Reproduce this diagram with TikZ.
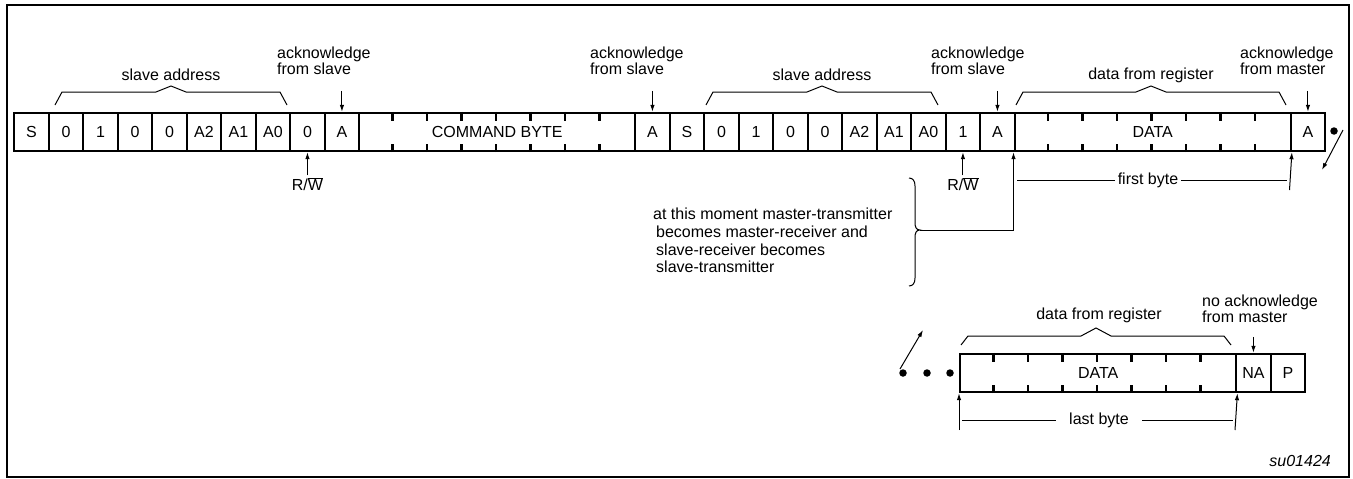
\documentclass[tikz,border=0pt]{standalone}
\usepackage{fontspec}
\setmainfont{Liberation Sans}
\usetikzlibrary{arrows.meta,calc}
\begin{document}
\begin{tikzpicture}[x=1pt,y=-1pt,
  txt/.style={font=\fontsize{16}{16.5}\selectfont, inner sep=0pt},
  every node/.style={txt},
  cell/.style={draw, line width=2.4pt, minimum width=34.5pt, minimum height=38pt, anchor=west},
  bytebox/.style={cell, minimum width=276pt},
  thinline/.style={line width=1pt},
  arr/.style={thinline, -{Latex[length=7pt,width=4.5pt]}},
  tickmark/.style={line width=2.4pt},
  bracket/.style={thinline, line join=miter},
  note/.style={align=left, anchor=north west},
  dotmark/.style={fill, circle, minimum size=7.5pt, inner sep=0pt}]
\useasboundingbox (0,0) rectangle (1353,479);
\draw[line width=2.2pt] (7,5) rectangle (1349,477);

% ---- top row ----
\foreach \t [count=\i from 0] in {S,0,1,0,0,A2,A1,A0,0,A}
  \node[cell] (a\i) at ({13+34.5*\i},132) {\t};
\node[bytebox] (cmd) at (358,132) {COMMAND BYTE};
\foreach \t [count=\i from 0] in {A,S,0,1,0,0,A2,A1,A0,1,A}
  \node[cell] (b\i) at ({634+34.5*\i},132) {\t};
\node[bytebox] (data1) at (1013.5,132) {DATA};
\node[cell] (am) at (1289.5,132) {A};

% ---- bottom row ----
\node[bytebox] (data2) at (959,373) {DATA};
\node[cell] (na) at (1235,373) {NA};
\node[cell] (p) at (1269.5,373) {P};

% ticks inside byte boxes
\foreach \bx in {cmd,data1,data2}
  \foreach \j in {1,...,7} {
    \draw[tickmark] ($(\bx.north west)+(34.5*\j,0)$) -- ++(0,9);
    \draw[tickmark] ($(\bx.south west)+(34.5*\j,0)$) -- ++(0,-8);
  }

% ---- brackets ----
\draw[bracket] (55,105) -- (62,92) -- (156,92) -- (171,86) -- (186,92) -- (280,92) -- (287,105);
\draw[bracket] (706,105) -- (713,92) -- (807,92) -- (822,86) -- (837,92) -- (931,92) -- (938,105);
\draw[bracket] (1016,105) -- (1023,92) -- (1136,92) -- (1151,86) -- (1166,92) -- (1279,92) -- (1286,105);
\draw[bracket] (961,345) -- (968,336) -- (1081,336) -- (1096,328) -- (1111,336) -- (1224,336) -- (1231,345);
\node (sa1) at (171,75) {slave address};
\node (sa2) at (822,75) {slave address};
\node (dfr1) at (1151,75) {data from register};
\node (dfr2) at (1099,315) {data from register};

% ---- acknowledge labels ----
\node[note] (ack1) at (277,46.5) {acknowledge\\from slave};
\node[note] (ack2) at (590,46.5) {acknowledge\\from slave};
\node[note] (ack3) at (931,46.5) {acknowledge\\from slave};
\node[note] (ack4) at (1240,46.5) {acknowledge\\from master};
\draw[arr] (a9.north) ++(0,-21) -- (a9.north);
\draw[arr] (b0.north) ++(0,-21) -- (b0.north);
\draw[arr] (b10.north) ++(0,-21) -- (b10.north);
\draw[arr] (am.north) ++(0,-21) -- (am.north);
\node[note] (nack) at (1202,294.5) {no acknowledge\\from master};
\draw[arr] (na.north) ++(0,-16) -- (na.north);

% ---- R/W ----
\node[inner sep=2pt] (rw1) at ($(a8.south)+(0,32)$) {R/$\overline{\mbox{W}}$};
\node[inner sep=2pt] (rw2) at ($(b9.south)+(0,32)$) {R/$\overline{\mbox{W}}$};
\draw[arr] (rw1.north) -- (a8.south);
\draw[arr] (rw2.north) -- (b9.south);

% ---- first byte ----
\coordinate (fbr) at (1289.5,190);
\draw[arr] (fbr) -- (data1.south east);
\node[inner xsep=3pt] (fb) at (1148,180) {first byte};
\draw[thinline] (1017,180) -- (fb.west);
\draw[thinline] (fb.east) -- (1287,180);

% ---- role change note ----
\draw[thinline] (909,178) .. controls (913,178) and (915,181) .. (915,186) -- (915,222)
  .. controls (915,227) and (916,230) .. (920,230)
  .. controls (916,230) and (915,233) .. (915,238) -- (915,278)
  .. controls (915,283) and (913,286) .. (909,286);
\coordinate (bt) at (920,230);
\draw[arr] (bt) -| (data1.south west);
\node[note, font=\fontsize{16}{17.7}\selectfont] (moment) at (653,208)
  {at this moment master-transmitter\\\hspace*{3pt}becomes master-receiver and\\\hspace*{3pt}slave-receiver becomes\\\hspace*{3pt}slave-transmitter};

% ---- continuation marks ----
\node[dotmark] (d0) at (1334,131) {};
\draw[arr] (1343,130) -- (1322,170);
\node[dotmark] (d1) at (903,373) {};
\node[dotmark] (d2) at (927,373) {};
\node[dotmark] (d3) at (950,373) {};
\draw[arr] (900,369) -- (923,330);

% ---- last byte ----
\coordinate (lbl) at (959,430);
\coordinate (lbr) at (1235,430);
\draw[arr] (lbl) -- (data2.south west);
\draw[arr] (lbr) -- (data2.south east);
\node[inner xsep=13pt] (lb) at (1099,420) {last byte};
\draw[thinline] (962,420) -- (lb.west);
\draw[thinline] (lb.east) -- (1233,420);

\node[anchor=east, font=\fontsize{16}{16.5}\selectfont\itshape] (id) at (1331,461) {su01424};
\end{tikzpicture}
\end{document}
